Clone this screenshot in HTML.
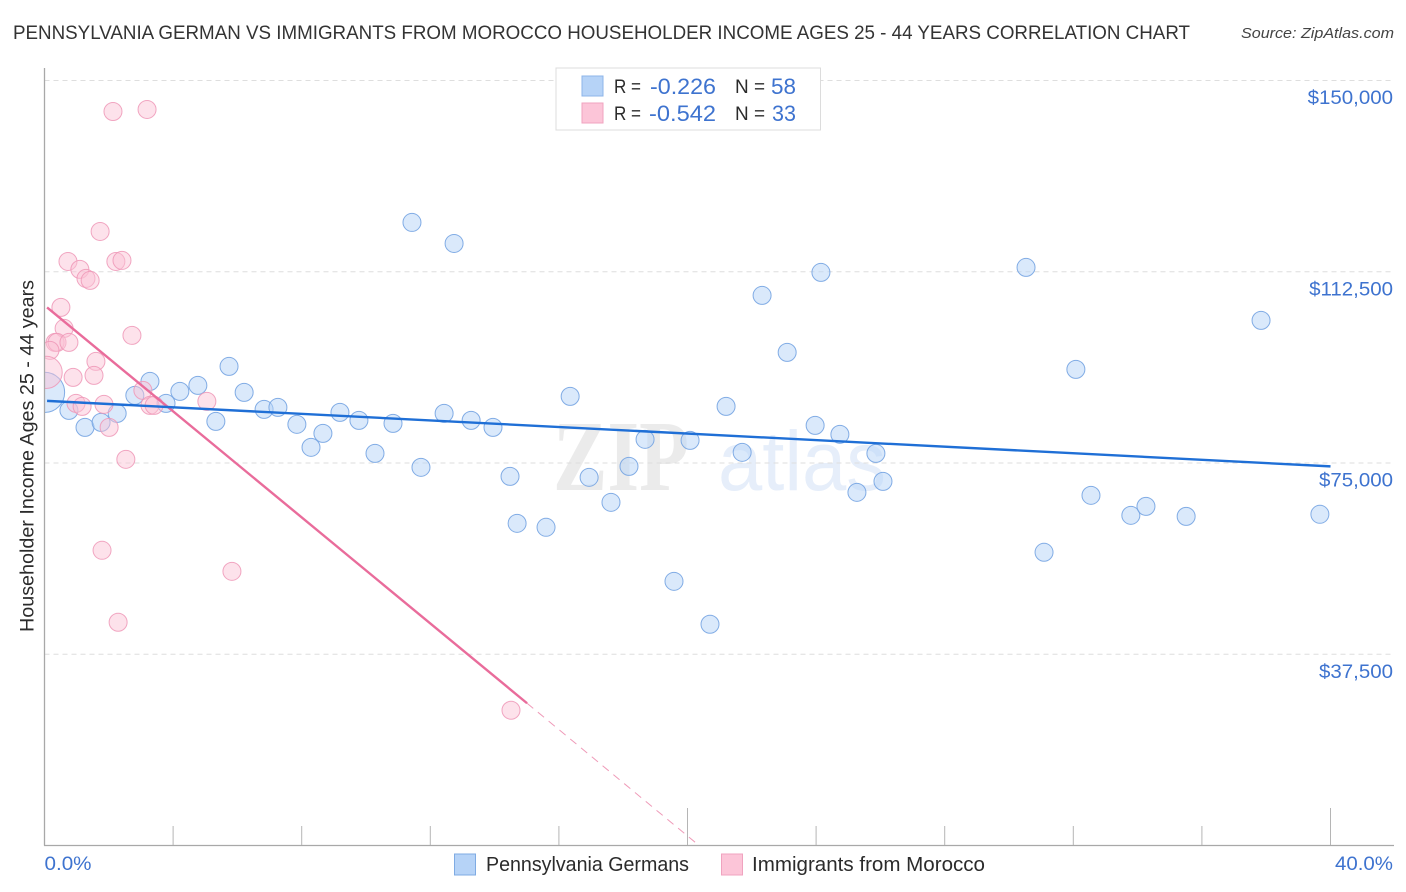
<!DOCTYPE html>
<html>
<head>
<meta charset="utf-8">
<title>Pennsylvania German vs Immigrants from Morocco Correlation Chart</title>
<style>
html,body{margin:0;padding:0;background:#fff;width:1406px;height:892px;overflow:hidden}
svg{display:block}
text{font-family:"Liberation Sans",sans-serif}
</style>
</head>
<body>
<svg id="chart" xmlns="http://www.w3.org/2000/svg" width="1406" height="892" viewBox="0 0 1406 892">
  <defs><clipPath id="plot-clip"><rect x="44.5" y="60" width="1350" height="785"></rect></clipPath></defs>
  <text x="13" y="39" font-size="19.6" fill="#333" textLength="1177" lengthAdjust="spacingAndGlyphs">PENNSYLVANIA GERMAN VS IMMIGRANTS FROM MOROCCO HOUSEHOLDER INCOME AGES 25 - 44 YEARS CORRELATION CHART</text>
  <text x="1241" y="38" font-size="15" font-style="italic" fill="#444" textLength="153" lengthAdjust="spacingAndGlyphs">Source: ZipAtlas.com</text>
  <g>
    <text x="553" y="490" font-size="101" font-weight="bold" fill="#ebebeb" style="font-family:'Liberation Serif',serif" textLength="136" lengthAdjust="spacingAndGlyphs">ZIP</text>
    <text x="718" y="490" font-size="84" fill="#e6eefa" textLength="168" lengthAdjust="spacingAndGlyphs">atlas</text>
  </g>
  <g id="grid"></g>
  <g id="marks" clip-path="url(#plot-clip)"></g>
  <g id="axes"></g>
  <g>
    <rect x="556" y="68" width="264.5" height="62" fill="#fff" stroke="#dcdcdc" stroke-width="1"></rect>
    <rect x="582" y="76" width="21" height="20" fill="#b6d3f7" stroke="#8db5e8" stroke-width="1"></rect>
    <rect x="582" y="103" width="21" height="20" fill="#fcc5d8" stroke="#f0a3bf" stroke-width="1"></rect>
    <text x="614" y="93" font-size="19.5" fill="#2b2b2b" textLength="27" lengthAdjust="spacingAndGlyphs">R =</text>
    <text x="650" y="94" font-size="22" fill="#3e73cf" textLength="66" lengthAdjust="spacingAndGlyphs">-0.226</text>
    <text x="735" y="93" font-size="19.5" fill="#2b2b2b" textLength="30" lengthAdjust="spacingAndGlyphs">N =</text>
    <text x="771" y="94" font-size="22" fill="#3e73cf" textLength="25" lengthAdjust="spacingAndGlyphs">58</text>
    <text x="614" y="120" font-size="19.5" fill="#2b2b2b" textLength="27" lengthAdjust="spacingAndGlyphs">R =</text>
    <text x="649" y="121" font-size="22" fill="#3e73cf" textLength="67" lengthAdjust="spacingAndGlyphs">-0.542</text>
    <text x="735" y="120" font-size="19.5" fill="#2b2b2b" textLength="30" lengthAdjust="spacingAndGlyphs">N =</text>
    <text x="772" y="121" font-size="22" fill="#3e73cf" textLength="24" lengthAdjust="spacingAndGlyphs">33</text>
  </g>
  <text transform="translate(33.5,632) rotate(-90)" x="0" y="0" font-size="19" fill="#2b2b2b" textLength="352" lengthAdjust="spacingAndGlyphs">Householder Income Ages 25 - 44 years</text>
  <g>
    <rect x="454.5" y="854" width="21" height="21" fill="#b6d3f7" stroke="#7fabe3" stroke-width="1"></rect>
    <text x="486" y="871" font-size="20" fill="#2b2b2b" textLength="203" lengthAdjust="spacingAndGlyphs">Pennsylvania Germans</text>
    <rect x="721.5" y="854" width="21" height="21" fill="#fcc5d8" stroke="#f0a3bf" stroke-width="1"></rect>
    <text x="752" y="871" font-size="20" fill="#2b2b2b" textLength="233" lengthAdjust="spacingAndGlyphs">Immigrants from Morocco</text>
  </g>
</svg>
<script>
const yTickValues = [150000, 112500, 75000, 37500];
const yTickLabels = ["$150,000", "$112,500", "$75,000", "$37,500"];
const xTickValues = [0, 4, 8, 12, 16, 20, 24, 28, 32, 36, 40];
const xEndLabels = ["0.0%", "40.0%"];

const germansX = [0.76,1.26,1.76,2.26,2.81,3.28,3.78,4.21,4.77,5.33,5.74,6.21,6.83,7.26,7.85,8.29,8.66,9.19,9.78,10.28,10.84,11.71,12.43,13.27,13.95,11.43,12.74,14.48,14.70,15.60,16.35,16.94,17.62,18.18,18.68,19.58,20.08,20.70,21.20,21.70,22.32,23.10,23.97,24.15,24.74,25.27,25.86,26.08,30.53,31.09,32.08,32.55,33.79,34.26,35.51,37.84,39.67,0.0];
const germansY = [85320,81990,82970,84730,88260,91000,86690,89040,90220,83160,93940,88850,85520,85910,82580,78070,80810,84930,83360,76890,82770,74150,84730,83360,81990,122170,118050,72380,63170,62390,88060,72190,67290,74340,79640,51800,79440,43380,86100,77090,107860,96690,82380,112370,80620,69250,76890,71400,113350,57490,93360,68660,64740,66500,64540,102960,64940,88850];
const germansWeight = [1,1,1,1,1,1,1,1,1,1,1,1,1,1,1,1,1,1,1,1,1,1,1,1,1,1,1,1,1,1,1,1,1,1,1,1,1,1,1,1,1,1,1,1,1,1,1,1,1,1,1,1,1,1,1,1,1,5];

const moroccoX = [2.13,3.19,1.73,0.73,1.10,2.22,2.41,1.29,1.42,0.51,0.61,2.72,0.33,0.39,0.76,0.17,1.60,0.89,1.54,0.05,3.06,5.05,0.98,1.17,1.85,3.28,3.41,2.01,2.53,1.79,5.83,2.29,14.51];
const moroccoY = [143920,144320,120400,114520,112960,114520,114720,111190,110800,105510,101390,100020,98650,98650,98650,97080,94920,91790,92180,92770,89240,87080,86690,86100,86500,86300,86300,81990,75720,57880,53760,43770,26520];
const moroccoWeight = [1,1,1,1,1,1,1,1,1,1,1,1,1,1,1,1,1,1,1,3.2,1,1,1,1,1,1,1,1,1,1,1,1,1];

const germansTrendX = [0.08, 40];
const germansTrendY = [87180, 74340];
const moroccoTrendX = [0.08, 15.01];
const moroccoTrendY = [105510, 27890];
const moroccoExtensionX = [15.01, 20.36];
const moroccoExtensionY = [27890, 0];

const NS = "http://www.w3.org/2000/svg";
const sx = v => 44.5 + v * 32.15;
const sy = v => 845.5 - v * (765 / 150000);

function make(parent, tag, attrs) {
  const el = document.createElementNS(NS, tag);
  for (const k in attrs) el.setAttribute(k, attrs[k]);
  parent.appendChild(el);
  return el;
}

const grid = document.getElementById("grid");
const axes = document.getElementById("axes");
const marks = document.getElementById("marks");

yTickValues.forEach((v, i) => {
  const line = make(grid, "line", {x1: 44.5, x2: 1394, y1: sy(v), y2: sy(v), stroke: "#dedede", "stroke-width": 1, "stroke-dasharray": "5 4"});
  
  
  const label = make(axes, "text", {x: 1393, y: sy(v) + 23.5, "text-anchor": "end", "font-size": 19.5, fill: "#3e73cf"});
  label.textContent = yTickLabels[i];
  
  
  label.setAttribute("textLength", label.getComputedTextLength() * 1.05);
  label.setAttribute("lengthAdjust", "spacingAndGlyphs");
});

const yAxis = make(axes, "line", {x1: 44.5, x2: 44.5, y1: 68, y2: 845.5, stroke: "#a8a8a8", "stroke-width": 1.3});


const xAxis = make(axes, "line", {x1: 44, x2: 1394, y1: 845.5, y2: 845.5, stroke: "#a8a8a8", "stroke-width": 1.3});



xTickValues.forEach((v, i) => {
  if (i === 0) return;
  const tall = (v === 20 || v === 40);
  const tick = make(axes, "line", {x1: sx(v), x2: sx(v), y1: tall ? 808 : 826, y2: 845, stroke: "#b5b5b5", "stroke-width": 1});
  
  
});

const xLeft = make(axes, "text", {x: 44.5, y: 870, "font-size": 19.5, fill: "#3e73cf", textLength: 47, lengthAdjust: "spacingAndGlyphs"});
xLeft.textContent = xEndLabels[0];


const xRight = make(axes, "text", {x: 1335, y: 870, "font-size": 19.5, fill: "#3e73cf", textLength: 58, lengthAdjust: "spacingAndGlyphs"});
xRight.textContent = xEndLabels[1];



germansX.forEach((x, i) => {
  const c = make(marks, "circle", {cx: sx(x), cy: sy(germansY[i]), r: 9 * Math.sqrt(germansWeight[i]), fill: "#b6d3f7", "fill-opacity": 0.5, stroke: "#76a4e2", "stroke-width": 1, "stroke-opacity": 0.9});
  
  
});

moroccoX.forEach((x, i) => {
  const c = make(marks, "circle", {cx: sx(x), cy: sy(moroccoY[i]), r: 9 * Math.sqrt(moroccoWeight[i]), fill: "#fbc2d6", "fill-opacity": 0.48, stroke: "#ef98b7", "stroke-width": 1, "stroke-opacity": 0.85});
  
  
});

const trendPink = make(marks, "line", {x1: sx(moroccoTrendX[0]), y1: sy(moroccoTrendY[0]), x2: sx(moroccoTrendX[1]), y2: sy(moroccoTrendY[1]), stroke: "#e96c9b", "stroke-width": 2.4});


const trendPinkExt = make(marks, "line", {x1: sx(moroccoExtensionX[0]), y1: sy(moroccoExtensionY[0]), x2: sx(moroccoExtensionX[1]), y2: sy(moroccoExtensionY[1]), stroke: "#ef9ab8", "stroke-width": 1, "stroke-dasharray": "8 6"});


const trendBlue = make(marks, "line", {x1: sx(germansTrendX[0]), y1: sy(germansTrendY[0]), x2: sx(germansTrendX[1]), y2: sy(germansTrendY[1]), stroke: "#1f6fd6", "stroke-width": 2.4});


</script>
</body>
</html>
